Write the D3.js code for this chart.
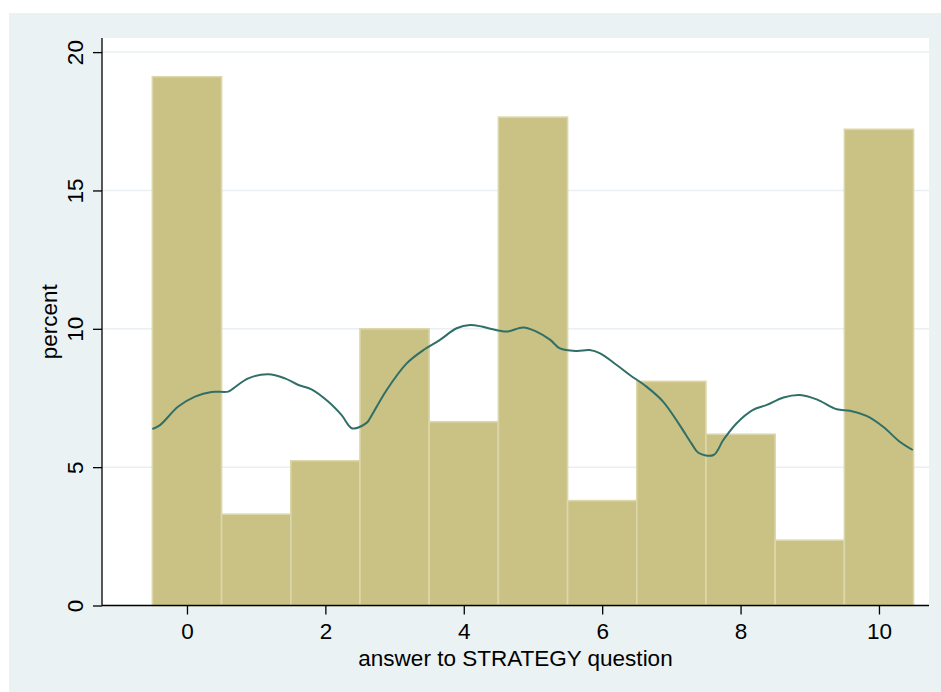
<!DOCTYPE html>
<html>
<head>
<meta charset="utf-8">
<script src="https://cdn.jsdelivr.net/npm/d3@7"></script>
<style>
  html, body { margin: 0; padding: 0; background: #ffffff; }
  svg { display: block; }
  text { font-family: "Liberation Sans", Arial, Helvetica, sans-serif; fill: #000; }
</style>
</head>
<body>
<script>
// Answers 0..10 and the share of respondents giving each one (percent)
const answers = [0, 1, 2, 3, 4, 5, 6, 7, 8, 9, 10];
const percents = [19.11, 3.30, 5.23, 10.0, 6.64, 17.65, 3.79, 8.10, 6.19, 2.36, 17.21];

// Kernel density estimate, scaled to percent
const densityX = [-0.5, -0.39, -0.126, 0.116, 0.357, 0.597, 0.67, 0.886, 1.175, 1.416, 1.61, 1.80, 2.04, 2.235, 2.39, 2.60,
  2.645, 2.886, 3.175, 3.415, 3.656, 3.897, 4.09, 4.26, 4.40, 4.62, 4.86, 5.05, 5.25, 5.39, 5.63, 5.82,
  5.97, 6.21, 6.40, 6.64, 6.88, 7.12, 7.29, 7.39, 7.61, 7.75, 7.94, 8.18, 8.38, 8.62, 8.86, 9.10, 9.39,
  9.58, 9.82, 10.06, 10.30, 10.49];
const densityY = [6.38, 6.52, 7.19, 7.55, 7.72, 7.73, 7.85, 8.21, 8.36, 8.21, 7.97, 7.81, 7.37, 6.88, 6.40, 6.61,
  6.77, 7.79, 8.75, 9.23, 9.60, 10.02, 10.14, 10.08, 9.99, 9.90, 10.05, 9.90, 9.60, 9.29, 9.20, 9.23,
  9.11, 8.69, 8.33, 7.91, 7.37, 6.52, 5.86, 5.52, 5.44, 5.98, 6.58, 7.07, 7.25, 7.52, 7.61, 7.45, 7.09,
  7.04, 6.85, 6.46, 5.92, 5.62];

const xTicks = [0, 2, 4, 6, 8, 10];
const yTicks = [0, 5, 10, 15, 20];

const W = 941, H = 692;
const plot = { left: 102, right: 929, top: 38, bottom: 605.5 };

const svg = d3.select("body").append("svg").attr("width", W).attr("height", H);

// Outer graph region
svg.append("rect").attr("x", 9).attr("y", 13).attr("width", W - 9).attr("height", H - 13)
  .attr("fill", "#eaf2f3");
// Plot region
svg.append("rect").attr("x", plot.left).attr("y", plot.top)
  .attr("width", plot.right - plot.left).attr("height", plot.bottom - plot.top)
  .attr("fill", "#ffffff");

const x = d3.scaleLinear().domain([-1.228, 10.723]).range([plot.left, plot.right]);
const y = d3.scaleLinear().domain([0, 20.51]).range([plot.bottom, plot.top]);

// Horizontal grid lines
svg.append("g").selectAll("line").data(yTicks.filter(d => d > 0)).join("line")
  .attr("x1", plot.left).attr("x2", plot.right)
  .attr("y1", d => y(d)).attr("y2", d => y(d))
  .attr("stroke", "#e9eff2").attr("stroke-width", 1.5);

// Histogram bars, one unit wide, centred on each answer
svg.append("g").selectAll("rect").data(answers).join("rect")
  .attr("x", (d) => x(d - 0.5))
  .attr("width", (d) => x(d + 0.5) - x(d - 0.5))
  .attr("y", (d, i) => y(percents[i]))
  .attr("height", (d, i) => y(0) - y(percents[i]))
  .attr("fill", "#cac184")
  .attr("stroke", "#dcd7ab").attr("stroke-width", 1.6);

// Density curve
const line = d3.line()
  .x(d => x(d[0])).y(d => y(d[1]))
  .curve(d3.curveCatmullRom.alpha(0.5));
svg.append("path")
  .datum(densityX.map((v, i) => [v, densityY[i]]))
  .attr("d", line)
  .attr("fill", "none").attr("stroke", "#2f6f67").attr("stroke-width", 2);

// Y axis
const yAxis = d3.axisLeft(y).tickValues(yTicks).tickSize(9).tickPadding(0).tickFormat(d3.format("d"));
const gy = svg.append("g").attr("transform", `translate(${plot.left},0)`).call(yAxis);
gy.select(".domain").attr("d", `M0,${plot.bottom}V${plot.top}`).attr("stroke", "#000").attr("stroke-width", 1.3);
gy.selectAll(".tick line").attr("stroke", "#000").attr("stroke-width", 1.3);
gy.selectAll(".tick text")
  .attr("font-size", 22.5).attr("font-family", "Liberation Sans, Arial, sans-serif")
  .attr("text-anchor", "middle").attr("x", null).attr("dy", null)
  .attr("transform", "translate(-19,0) rotate(-90)");

// X axis
const xAxis = d3.axisBottom(x).tickValues(xTicks).tickSize(9).tickPadding(0).tickFormat(d3.format("d"));
const gx = svg.append("g").attr("transform", `translate(0,${plot.bottom})`).call(xAxis);
gx.select(".domain").attr("d", `M${plot.left},0H${plot.right}`).attr("stroke", "#000").attr("stroke-width", 1.3);
gx.selectAll(".tick line").attr("stroke", "#000").attr("stroke-width", 1.3);
gx.selectAll(".tick text")
  .attr("font-size", 22.5).attr("font-family", "Liberation Sans, Arial, sans-serif")
  .attr("y", 33).attr("dy", null);

// Axis titles
svg.append("text")
  .attr("x", (plot.left + plot.right) / 2).attr("y", 666)
  .attr("text-anchor", "middle").attr("font-size", 22.5)
  .text("answer to STRATEGY question");
svg.append("text")
  .attr("transform", `translate(57,${(plot.top + plot.bottom) / 2}) rotate(-90)`)
  .attr("text-anchor", "middle").attr("font-size", 22.5)
  .text("percent");
</script>
</body>
</html>
